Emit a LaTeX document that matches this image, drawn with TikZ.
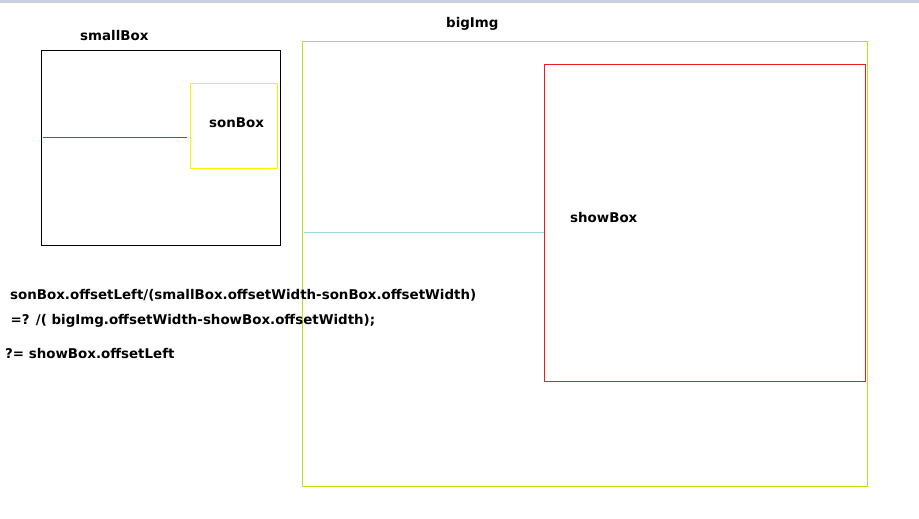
\documentclass[tikz,border=0pt]{standalone}
\usepackage{fontspec}
\setmainfont{DejaVu Sans}
\definecolor{topbar}{HTML}{C8D0E0}
\definecolor{limeg}{HTML}{B5E61D}
\definecolor{redb}{HTML}{ED1C24}
\definecolor{yelb}{HTML}{FFF200}
\definecolor{cyanl}{HTML}{99D9EA}
\begin{document}
\begin{tikzpicture}[x=1pt,y=-1pt,
  boxframe/.style={draw,line width=1pt,inner sep=0pt,outer sep=0pt,anchor=north west},
  lbl/.style={inner sep=0pt,anchor=base west,font=\fontsize{13.4}{16}\selectfont\bfseries},
  guide/.style={line width=1pt}]
\useasboundingbox (0,0) rectangle (919,519);
\fill[topbar] (0,0) rectangle (919,3.5);
% boxes
\node[boxframe,minimum width=239pt,minimum height=194pt] (smallBox) at (41,51) {};
\node[boxframe,draw=yelb,minimum width=87pt,minimum height=85pt] (sonBox) at (190.5,83.5) {};
\node[boxframe,draw=limeg,minimum width=565pt,minimum height=444.5pt] (bigImg) at (302.5,41.5) {};
\node[boxframe,draw=redb,minimum width=321pt,minimum height=317pt] (showBox) at (544.5,64.5) {};
% guide lines
\coordinate (r1) at (43,137.5);
\coordinate (r2) at (187,137.5);
\draw[guide,redb] (r1) -- (r2);
\coordinate (c1) at (304,232.5);
\coordinate (c2) at (544,232.5);
\draw[guide,cyanl] (c1) -- (c2);
% labels
\node[lbl] (tSmall) at (80,41) {smallBox};
\node[lbl] (tBig) at (446,28) {bigImg};
\node[lbl] (tSon) at (209,127) {sonBox};
\node[lbl] (tShow) at (570,222) {showBox};
\node[lbl] (f1) at (10,299) {sonBox.offsetLeft/(smallBox.offsetWidth-sonBox.offsetWidth)};
\node[lbl] (f2) at (10.5,324.5) {=? /( bigImg.offsetWidth-showBox.offsetWidth);};
\node[lbl] (f3) at (5,358) {?= showBox.offsetLeft};
\end{tikzpicture}
\end{document}
